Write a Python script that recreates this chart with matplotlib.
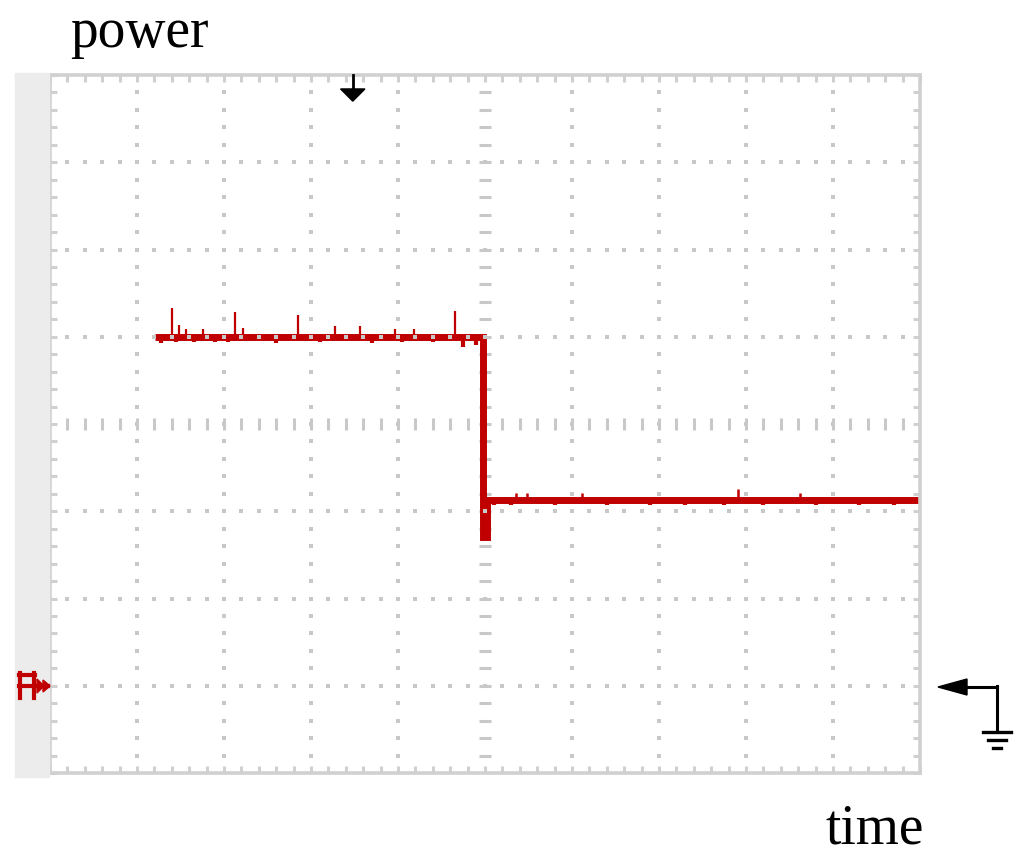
import numpy as np
import matplotlib
matplotlib.use('Agg')
import matplotlib.pyplot as plt
from matplotlib.patches import Rectangle, Polygon

# trace, in divisions (x: time, y: power, ground = 0)
trace_t = [1.21, 4.98, 4.98, 5.02, 5.02, 10.0]
trace_p = [4.0, 4.0, 1.70, 1.70, 2.13, 2.13]

# small glitches riding on the two levels
spike_t_high = [1.40, 1.48, 1.56, 1.76, 2.13, 2.22, 2.85, 3.28, 3.56, 3.97, 4.18, 4.66]
spike_p_high = [4.33, 4.13, 4.09, 4.09, 4.28, 4.10, 4.25, 4.12, 4.12, 4.09, 4.09, 4.30]
notch_t_high = [1.28, 1.45, 1.66, 1.90, 2.05, 2.60, 3.10, 3.70, 4.05, 4.40, 4.75, 4.90]
notch_p_high = [3.93, 3.94, 3.94, 3.94, 3.94, 3.93, 3.94, 3.93, 3.94, 3.94, 3.88, 3.91]
spike_t_low = [5.36, 5.48, 6.11, 7.91, 8.62]
spike_p_low = [2.21, 2.21, 2.21, 2.26, 2.21]
notch_t_low = [5.10, 5.30, 5.80, 6.40, 6.90, 7.30, 7.75, 8.20, 8.80, 9.30, 9.70]
notch_p_low = [2.07, 2.07, 2.07, 2.07, 2.07, 2.07, 2.07, 2.07, 2.07, 2.07, 2.07]

TRACE = '#c00000'
GRID = '#c8c8c8'
FRAME = '#d0d0d0'

fig = plt.figure(figsize=(10.24, 8.57), dpi=100)
ax = fig.add_axes([50 / 1024, 84 / 857, 870 / 1024, 698 / 857])
ax.set_xlim(0, 10)
ax.set_ylim(-1, 7)

for s in ax.spines.values():
    s.set_color(FRAME)
    s.set_linewidth(2.6)
ax.set_xticks(np.arange(0, 10.01, 0.2))
ax.set_yticks(np.arange(-1, 7.01, 0.2))
ax.tick_params(direction='in', length=5, width=2.2, color=FRAME,
               top=True, right=True, labelbottom=False, labelleft=False)

minor_x = np.arange(0.2, 9.9, 0.2)
minor_y = np.arange(-0.8, 6.9, 0.2)

# centre lines with dashes (under the trace)
ax.plot(minor_x, np.full(len(minor_x), 3), ls='none', marker='|',
        ms=8, mew=2.2, color=GRID, zorder=1)
ax.plot(np.full(len(minor_y), 5), minor_y, ls='none', marker='_',
        ms=8, mew=2.2, color=GRID, zorder=1)

# signal
ax.plot(trace_t, trace_p, color=TRACE, lw=5.0, solid_joinstyle='miter',
        solid_capstyle='butt', zorder=2)
ax.vlines(spike_t_high, 4.0, spike_p_high, color=TRACE, lw=1.6, zorder=2)
ax.vlines(notch_t_high, 4.0, notch_p_high, color=TRACE, lw=3.0, zorder=2)
ax.vlines(spike_t_low, 2.13, spike_p_low, color=TRACE, lw=1.8, zorder=2)
ax.vlines(notch_t_low, 2.13, notch_p_low, color=TRACE, lw=3.0, zorder=2)

# dotted graticule, drawn over the trace like on the scope
for gx in [1, 2, 3, 4, 6, 7, 8, 9]:
    ax.plot(np.full(len(minor_y), gx), minor_y, ls='none', marker='s',
            ms=2.2, mew=0, color=GRID, zorder=3)
for gy in [0, 1, 2, 4, 5, 6]:
    ax.plot(minor_x, np.full(len(minor_x), gy), ls='none', marker='s',
            ms=2.2, mew=0, color=GRID, zorder=3)

# trigger marker at the top
ax.plot([3.48, 3.48], [7.0, 6.8], color='black', lw=2, clip_on=False, zorder=4)
ax.add_patch(Polygon([[3.34, 6.84], [3.62, 6.84], [3.48, 6.70]], closed=True,
                     color='black', zorder=4))

# overlay in pixel units for the side symbols
ov = fig.add_axes([0, 0, 1, 1])
ov.set_xlim(0, 1024)
ov.set_ylim(857, 0)
ov.axis('off')
ov.patch.set_alpha(0)

# left grey strip of the scope screen
ov.add_patch(Rectangle((15, 73), 34, 704, color='#ececec', zorder=0))

# red ground-level marker on the left
ov.plot([20, 20], [673, 698], color=TRACE, lw=3)
ov.plot([34, 34], [673, 698], color=TRACE, lw=3)
ov.plot([19, 35], [675, 675], color=TRACE, lw=3)
ov.plot([19, 48], [686, 686], color=TRACE, lw=3)
ov.add_patch(Polygon([[37, 679], [44, 686], [37, 693]], closed=True, color=TRACE))
ov.add_patch(Polygon([[43, 680], [50, 686], [43, 692]], closed=True, color=TRACE))

# black ground symbol on the right
ov.plot([997, 960], [687, 687], color='black', lw=2.2)
ov.plot([997, 997], [686, 732], color='black', lw=2.2)
ov.add_patch(Polygon([[938, 687], [967, 679], [967, 695]], closed=True, color='black'))
ov.plot([983, 1011], [732, 732], color='black', lw=2.4)
ov.plot([988, 1006], [740, 740], color='black', lw=2.4)
ov.plot([993, 1001], [748, 748], color='black', lw=2.4)

fig.text(70 / 1024, 1 - 47 / 857, 'power', family='Liberation Serif',
         fontsize=40, va='baseline', ha='left')
fig.text(825 / 1024, 1 - 843 / 857, 'time', family='Liberation Serif',
         fontsize=40, va='baseline', ha='left')

plt.savefig('out.png', dpi=100)
plt.close()
